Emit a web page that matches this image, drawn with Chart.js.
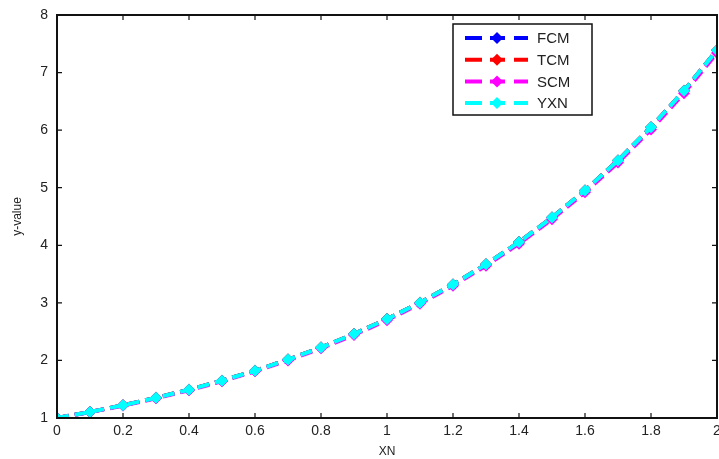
<!DOCTYPE html>
<html>
<head>
<meta charset="utf-8">
<script src="https://cdn.jsdelivr.net/npm/chart.js@4/dist/chart.umd.min.js"></script>
<style>
  html, body { margin: 0; padding: 0; background: #fff; }
  #wrap { width: 719px; height: 459px; }
</style>
</head>
<body>
<div id="wrap"><canvas id="plot" width="719" height="459"></canvas></div>
<script>
// x positions (XN)
const xn = [0, 0.1, 0.2, 0.3, 0.4, 0.5, 0.6, 0.7, 0.8, 0.9, 1.0,
            1.1, 1.2, 1.3, 1.4, 1.5, 1.6, 1.7, 1.8, 1.9, 2.0];

// values - the four curves sit almost on top of each other
const fcm = [1.00, 1.105, 1.221, 1.350, 1.492, 1.649, 1.822, 2.014, 2.226, 2.460, 2.718,
             3.004, 3.320, 3.669, 4.055, 4.482, 4.953, 5.474, 6.050, 6.686, 7.389];
const tcm = [1.00, 1.105, 1.221, 1.350, 1.492, 1.649, 1.822, 2.014, 2.226, 2.460, 2.718,
             3.004, 3.320, 3.669, 4.055, 4.482, 4.953, 5.474, 6.050, 6.686, 7.389];
const scm = [1.00, 1.102, 1.215, 1.342, 1.483, 1.638, 1.810, 2.000, 2.211, 2.443, 2.700,
             2.984, 3.298, 3.645, 4.028, 4.452, 4.920, 5.438, 6.010, 6.642, 7.340];
const yxn = [1.00, 1.105, 1.221, 1.350, 1.492, 1.649, 1.822, 2.014, 2.226, 2.460, 2.718,
             3.004, 3.320, 3.669, 4.055, 4.482, 4.953, 5.474, 6.050, 6.686, 7.389];

const xTicks = [0, 0.2, 0.4, 0.6, 0.8, 1, 1.2, 1.4, 1.6, 1.8, 2];
const yTicks = [1, 2, 3, 4, 5, 6, 7, 8];

const series = [
  { label: 'FCM', values: fcm, color: '#0000ff' },
  { label: 'TCM', values: tcm, color: '#ff0000' },
  { label: 'SCM', values: scm, color: '#ff00ff' },
  { label: 'YXN', values: yxn, color: '#00ffff' }
];

const font = "'Liberation Sans', Arial, sans-serif";
const noPad = () => ({ left: 0, top: 0, right: 0, bottom: 0 });

// box around the plot with inward ticks, like matlab
const frame = {
  id: 'frame',
  afterDraw(chart) {
    const { ctx, chartArea: a, scales: { x, y } } = chart;
    ctx.save();
    ctx.strokeStyle = '#111';
    ctx.lineWidth = 1.2;
    xTicks.forEach(v => {
      const px = x.getPixelForValue(v);
      ctx.beginPath();
      ctx.moveTo(px, a.bottom); ctx.lineTo(px, a.bottom - 5);
      ctx.moveTo(px, a.top); ctx.lineTo(px, a.top + 5);
      ctx.stroke();
    });
    yTicks.forEach(v => {
      const py = y.getPixelForValue(v);
      ctx.beginPath();
      ctx.moveTo(a.left, py); ctx.lineTo(a.left + 5, py);
      ctx.moveTo(a.right, py); ctx.lineTo(a.right - 5, py);
      ctx.stroke();
    });
    ctx.lineWidth = 2;
    ctx.strokeRect(a.left, a.top, a.right - a.left, a.bottom - a.top);

    // legend box
    const bx = 453, by = 24, bw = 139, bh = 91;
    ctx.fillStyle = '#fff';
    ctx.fillRect(bx, by, bw, bh);
    ctx.lineWidth = 1.5;
    ctx.strokeStyle = '#111';
    ctx.strokeRect(bx, by, bw, bh);
    chart.data.datasets.forEach((ds, i) => {
      const cy = 38 + i * 21.7;
      ctx.strokeStyle = ds.borderColor;
      ctx.fillStyle = ds.borderColor;
      ctx.lineWidth = 4;
      ctx.beginPath();
      ctx.moveTo(465, cy); ctx.lineTo(482, cy);
      ctx.moveTo(490, cy); ctx.lineTo(505, cy);
      ctx.moveTo(514, cy); ctx.lineTo(528, cy);
      ctx.stroke();
      ctx.beginPath();
      ctx.moveTo(497, cy - 6); ctx.lineTo(503, cy);
      ctx.lineTo(497, cy + 6); ctx.lineTo(491, cy);
      ctx.closePath();
      ctx.fill();
      ctx.fillStyle = '#222';
      ctx.font = '15px ' + font;
      ctx.textBaseline = 'middle';
      ctx.fillText(ds.label, 537, cy + 1);
    });
    ctx.restore();
  }
};

new Chart(document.getElementById('plot'), {
  type: 'line',
  data: {
    datasets: series.map((s, i) => ({
      label: s.label,
      data: xn.map((v, j) => ({ x: v, y: s.values[j] })),
      order: series.length - i, // later series drawn on top
      borderColor: s.color,
      backgroundColor: s.color,
      borderWidth: 4,
      borderDash: [12, 6],
      pointStyle: 'rectRot',
      pointRadius: 6,
      pointBorderWidth: 0,
      fill: false,
      tension: 0
    }))
  },
  options: {
    responsive: false,
    animation: false,
    layout: { autoPadding: false, padding: { top: 15, right: 2, left: 0, bottom: 0 } },
    plugins: { legend: { display: false }, tooltip: { enabled: false } },
    scales: {
      x: {
        type: 'linear',
        min: 0, max: 2,
        afterFit: s => { s.height = 41; s.paddingRight = 0; s.paddingLeft = 0; s.getPadding = noPad; },
        afterBuildTicks: s => { s.ticks = xTicks.map(v => ({ value: v })); },
        grid: { display: false, drawTicks: false },
        border: { display: false },
        ticks: { color: '#222', padding: 5, maxRotation: 0, font: { family: font, size: 14 },
                 callback: v => String(v) },
        title: { display: true, text: 'XN', color: '#222', padding: 0, font: { family: font, size: 12 } }
      },
      y: {
        min: 1, max: 8,
        afterFit: s => { s.width = 57; s.paddingTop = 0; s.paddingBottom = 0; s.getPadding = noPad; },
        afterBuildTicks: s => { s.ticks = yTicks.map(v => ({ value: v })); },
        grid: { display: false, drawTicks: false },
        border: { display: false },
        ticks: { color: '#222', padding: 9, font: { family: font, size: 14 },
                 callback: v => String(v) },
        title: { display: true, text: 'y-value', color: '#222', padding: { top: 10, bottom: 0 }, font: { family: font, size: 12 } }
      }
    }
  },
  plugins: [frame]
});
</script>
</body>
</html>
